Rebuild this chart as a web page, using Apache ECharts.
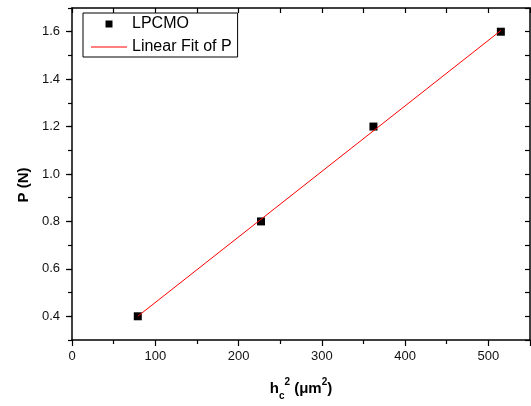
<!DOCTYPE html>
<html>
<head>
<meta charset="utf-8">
<script src="https://cdn.jsdelivr.net/npm/echarts@6/dist/echarts.min.js"></script>
<style>html,body{margin:0;padding:0;background:#fff}#c{width:531px;height:406px}</style>
</head>
<body>
<div id="c"></div>
<script>
// Data
const hc2 = [79, 227, 362, 515];          // h_c^2 (µm^2)
const P = [0.4, 0.8, 1.2, 1.6];           // P (N)
const fitX = [79, 515];                   // linear fit endpoints (x)
const fitY = [0.40, 1.605];               // linear fit endpoints (y)
const yMajorTicks = [0.4, 0.6, 0.8, 1.0, 1.2, 1.4, 1.6];
const seriesNames = ['LPCMO', 'Linear Fit of P'];

const FONT = '"Liberation Sans", Arial, sans-serif';
const chart = echarts.init(document.getElementById('c'), null, {renderer: 'canvas'});

const axisLine = {show: true, onZero: false, lineStyle: {color: '#000', width: 1.5}};

chart.setOption({
  animation: false,
  backgroundColor: '#fff',
  grid: {left: 72, right: 1, top: 8, bottom: 62, containLabel: false},
  legend: {
    left: 83, top: 13, orient: 'vertical',
    padding: [2, 6, 1, 8], itemGap: 5,
    itemWidth: 36, itemHeight: 7,
    borderColor: '#000', borderWidth: 1, backgroundColor: '#fff',
    textStyle: {fontFamily: FONT, fontSize: 16, color: '#000', lineHeight: 18},
    data: [
      {name: seriesNames[0], icon: 'path://M0,0L10,0L10,10L0,10Z', itemStyle: {color: '#000', opacity: 1}},
      {name: seriesNames[1], icon: 'path://M0,0L36,0L36,1L0,1Z', itemStyle: {color: '#ff0000'}}
    ]
  },
  xAxis: [
    {
      type: 'value', position: 'bottom', min: 0, max: 550, interval: 100,
      axisLine: axisLine,
      axisTick: {show: true, inside: false, length: 6, lineStyle: {color: '#000', width: 1.2}},
      minorTick: {show: true, splitNumber: 2, length: 4, lineStyle: {color: '#000', width: 1.2}},
      splitLine: {show: false},
      axisLabel: {fontFamily: FONT, fontSize: 13, color: '#111', margin: 10,
        showMaxLabel: false},
      name: '{b|h}{sub|c}{sup|2}{b| (μm}{sup|2}{b|)}',
      nameLocation: 'middle', nameGap: 37,
      nameTextStyle: {
        rich: {
          b: {fontFamily: FONT, fontSize: 15, fontWeight: 'bold', color: '#000', lineHeight: 24, verticalAlign: 'middle'},
          sub: {fontFamily: FONT, fontSize: 10, fontWeight: 'bold', color: '#000', lineHeight: 10, verticalAlign: 'bottom'},
          sup: {fontFamily: FONT, fontSize: 10, fontWeight: 'bold', color: '#000', lineHeight: 10, verticalAlign: 'top'}
        }
      }
    },
    {
      type: 'value', position: 'top', min: 0, max: 550, interval: 50,
      axisLine: axisLine,
      axisTick: {show: true, inside: true, length: 5, lineStyle: {color: '#000', width: 1.2}},
      axisLabel: {show: false}, splitLine: {show: false}
    }
  ],
  yAxis: [
    {
      type: 'value', position: 'left', min: 0.3, max: 1.7, interval: 0.1,
      axisLine: axisLine,
      axisTick: {show: true, inside: false, length: 6, customValues: yMajorTicks,
        lineStyle: {color: '#000', width: 1.2}},
      axisLabel: {fontFamily: FONT, fontSize: 13, color: '#111', margin: 12,
        customValues: yMajorTicks, formatter: v => v.toFixed(1)},
      splitLine: {show: false},
      name: 'P (N)', nameLocation: 'middle', nameGap: 40, nameRotate: 90,
      nameTextStyle: {fontFamily: FONT, fontSize: 15, fontWeight: 'bold', color: '#000', padding: [0, 22, 0, 0]}
    },
    {
      type: 'value', position: 'right', min: 0.3, max: 1.7, interval: 0.1,
      axisLine: axisLine,
      axisTick: {show: true, inside: true, length: 5, lineStyle: {color: '#000', width: 1.2}},
      axisLabel: {show: false}, splitLine: {show: false}
    },
    {
      type: 'value', position: 'left', min: 0.3, max: 1.7, interval: 0.1,
      axisLine: {show: false},
      axisTick: {show: true, inside: false, length: 4, lineStyle: {color: '#000', width: 1.2}},
      axisLabel: {show: false}, splitLine: {show: false}
    }
  ],
  series: [
    {
      name: seriesNames[0], type: 'scatter', xAxisIndex: 0, yAxisIndex: 0,
      symbol: 'rect', symbolSize: 8, z: 2,
      itemStyle: {color: '#000', opacity: 1},
      data: hc2.map((x, i) => [x, P[i]])
    },
    {
      name: seriesNames[1], type: 'line', xAxisIndex: 0, yAxisIndex: 0,
      symbol: 'none', showSymbol: false, z: 3,
      lineStyle: {color: '#ff0000', width: 1},
      itemStyle: {color: '#ff0000'},
      data: fitX.map((x, i) => [x, fitY[i]])
    }
  ]
});
</script>
</body>
</html>
